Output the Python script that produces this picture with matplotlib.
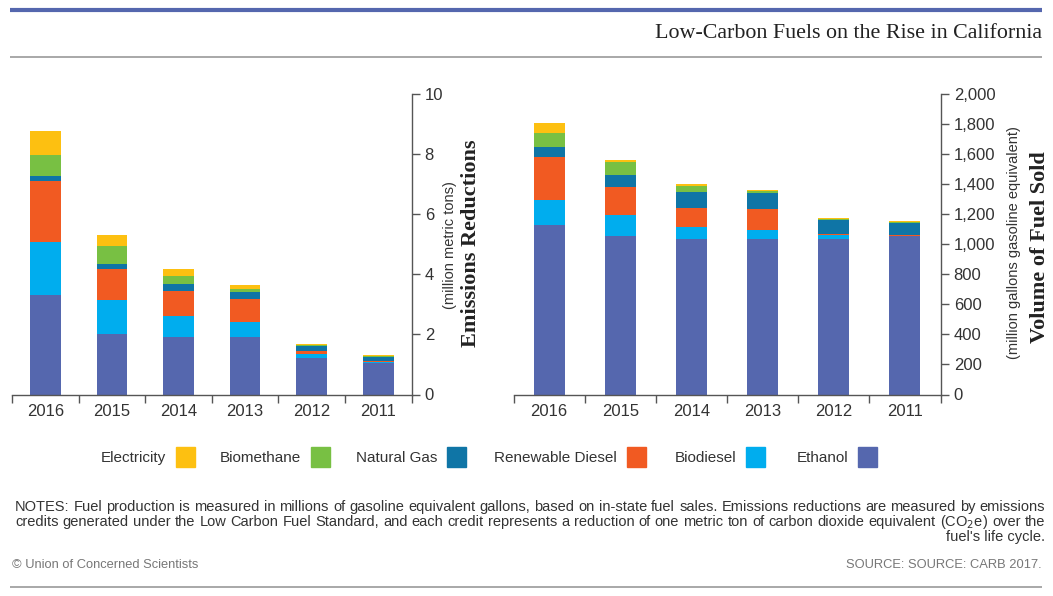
import matplotlib
matplotlib.use("Agg")
import matplotlib.pyplot as plt
from matplotlib.patches import Rectangle
from matplotlib.lines import Line2D
from matplotlib.ticker import FuncFormatter
import numpy as np

# ---------------- data ----------------
years = ["2011", "2012", "2013", "2014", "2015", "2016"]
fuels = ["Ethanol", "Biodiesel", "Renewable Diesel", "Natural Gas", "Biomethane", "Electricity"]
colors = ["#5567ae", "#00adee", "#f15a22", "#0f75a6", "#78c043", "#fdc011"]

# Emissions reductions (million metric tons)
ethanol_e = [1.03, 1.20, 1.90, 1.92, 2.02, 3.31]
biodiesel_e = [0.06, 0.16, 0.52, 0.70, 1.13, 1.74]
renewable_e = [0.01, 0.07, 0.76, 0.83, 1.02, 2.04]
natgas_e = [0.16, 0.19, 0.23, 0.22, 0.17, 0.17]
biomethane_e = [0.02, 0.02, 0.11, 0.26, 0.61, 0.70]
electricity_e = [0.03, 0.05, 0.12, 0.25, 0.35, 0.79]

# Volume of fuel sold (million gallons gasoline equivalent)
ethanol_v = [1054, 1034, 1034, 1034, 1054, 1123]
biodiesel_v = [2, 27, 60, 80, 139, 170]
renewable_v = [2, 4, 139, 126, 186, 283]
natgas_v = [82, 95, 106, 106, 80, 70]
biomethane_v = [7, 7, 13, 40, 84, 93]
electricity_v = [6, 9, 9, 13, 15, 67]

emis_ticks = [0, 2, 4, 6, 8, 10]
vol_ticks = [0, 200, 400, 600, 800, 1000, 1200, 1400, 1600, 1800, 2000]

title = "Low-Carbon Fuels on the Rise in California"
notes_lines = [
    "NOTES: Fuel production is measured in millions of gasoline equivalent gallons, based on in-state fuel sales. Emissions reductions are measured by emissions",
    "credits generated under the Low Carbon Fuel Standard, and each credit represents a reduction of one metric ton of carbon dioxide equivalent (CO$_2$e) over the",
    "fuel's life cycle.",
]
source = "SOURCE: SOURCE: CARB 2017."
credit = "\u00a9 Union of Concerned Scientists"

# ---------------- figure ----------------
W, H = 1053, 596
fig = plt.figure(figsize=(W / 100, H / 100), dpi=100)
fig.patch.set_facecolor("white")

SANS = ["Liberation Sans", "DejaVu Sans"]
SERIF = ["Liberation Serif", "DejaVu Serif"]
TXT = "#333333"
AX = "#555555"


def fx(px):
    return px / W


def fy(py):
    return 1 - py / H


def make_axes(left, right, top, bottom):
    return fig.add_axes([fx(left), fy(bottom), fx(right) - fx(left), fy(top) - fy(bottom)])


def draw_stack(ax, series, width, ylim, ticks, fmt):
    x = np.arange(len(years))
    bottom = np.zeros(len(years))
    for vals, c in zip(series, colors):
        vals = np.array(vals, dtype=float)
        ax.bar(x, vals, width, bottom=bottom, color=c, edgecolor="none")
        bottom += vals
    ax.set_xlim(-0.5, len(years) - 0.5)
    ax.invert_xaxis()
    ax.set_ylim(*ylim)
    ax.set_xticks(x)
    ax.set_xticklabels(years, fontsize=12, color=TXT, family=SANS)
    ax.set_xticks(np.arange(-0.5, len(years)), minor=True)
    ax.tick_params(axis="x", which="major", length=0, pad=6.5)
    ax.tick_params(axis="x", which="minor", length=5.5, width=1, color=AX, direction="out")
    ax.yaxis.tick_right()
    ax.set_yticks(ticks)
    ax.yaxis.set_major_formatter(FuncFormatter(fmt))
    ax.tick_params(axis="y", which="major", length=5.5, width=1, color=AX, pad=4,
                   labelsize=12, labelcolor=TXT)
    for lab in ax.get_yticklabels():
        lab.set_family(SANS)
    for s in ["left", "top"]:
        ax.spines[s].set_visible(False)
    for s in ["right", "bottom"]:
        ax.spines[s].set_color(AX)
        ax.spines[s].set_linewidth(1)
    ax.set_facecolor("none")


ax1 = make_axes(12, 411.5, 93.5, 394.5)
draw_stack(ax1, [ethanol_e, biodiesel_e, renewable_e, natgas_e, biomethane_e, electricity_e],
           0.46, (0, 10), emis_ticks, lambda v, p: f"{v:g}")

ax2 = make_axes(513.5, 940.5, 93.5, 394.5)
draw_stack(ax2, [ethanol_v, biodiesel_v, renewable_v, natgas_v, biomethane_v, electricity_v],
           0.435, (0, 2000), vol_ticks, lambda v, p: f"{int(v):,}")

# axis titles
fig.text(fx(471), fy(243), "Emissions Reductions", rotation=90, ha="center", va="center",
         fontsize=16, fontweight="bold", family=SERIF, color="#222222")
fig.text(fx(450), fy(245), "(million metric tons)", rotation=90, ha="center", va="center",
         fontsize=10.5, family=SANS, color=TXT)
fig.text(fx(1040), fy(247), "Volume of Fuel Sold", rotation=90, ha="center", va="center",
         fontsize=16, fontweight="bold", family=SERIF, color="#222222")
fig.text(fx(1014), fy(243), "(million gallons gasoline equivalent)", rotation=90, ha="center",
         va="center", fontsize=10.5, family=SANS, color=TXT)

# header / footer rules
fig.add_artist(Line2D([fx(10), fx(1042)], [fy(10.3), fy(10.3)], color="#5567ae", lw=3.0,
                      transform=fig.transFigure, solid_capstyle="butt"))
fig.add_artist(Line2D([fx(10), fx(1042)], [fy(56.5), fy(56.5)], color="#999999", lw=1.2,
                      transform=fig.transFigure, solid_capstyle="butt"))
fig.add_artist(Line2D([fx(10), fx(1042)], [fy(586.5), fy(586.5)], color="#999999", lw=1.2,
                      transform=fig.transFigure, solid_capstyle="butt"))

fig.text(fx(1042), fy(33.5), title, ha="right", va="center", fontsize=15.8, family=SERIF,
         color="#222222")

# legend (drawn right to left: Ethanol at right)
swatch_right = [877, 765, 646, 466, 330, 195]
for name, c, xr in zip(fuels, colors, swatch_right):
    fig.add_artist(Rectangle((fx(xr - 19), fy(467)), fx(19), fy(447) - fy(467), color=c,
                             transform=fig.transFigure))
    fig.text(fx(xr - 29), fy(462), name, ha="right", va="baseline", fontsize=11,
             family=SANS, color=TXT)

# justified notes block
renderer = fig.canvas.get_renderer()
left_px, right_px = 15, 1045
line_base = [511, 526, 541]
NFS = 10.5
for i, (line, ypx) in enumerate(zip(notes_lines, line_base)):
    if i == len(notes_lines) - 1:
        fig.text(fx(right_px), fy(ypx), line, ha="right", va="baseline", fontsize=NFS,
                 family=SANS, color=TXT)
        continue
    words = line.split(" ")
    tobjs = [fig.text(0, fy(ypx), w, ha="left", va="baseline", fontsize=NFS, family=SANS,
                      color=TXT) for w in words]
    widths = [t.get_window_extent(renderer).width for t in tobjs]
    gap = (right_px - left_px - sum(widths)) / (len(words) - 1)
    xcur = left_px
    for t, wd in zip(tobjs, widths):
        t.set_x(fx(xcur))
        xcur += wd + gap

fig.text(fx(1042), fy(568), source, ha="right", va="baseline", fontsize=9.3, family=SANS,
         color="#777777")
fig.text(fx(12), fy(568), credit, ha="left", va="baseline", fontsize=9.3, family=SANS,
         color="#777777")

fig.savefig("out.png", dpi=100, facecolor="white")
